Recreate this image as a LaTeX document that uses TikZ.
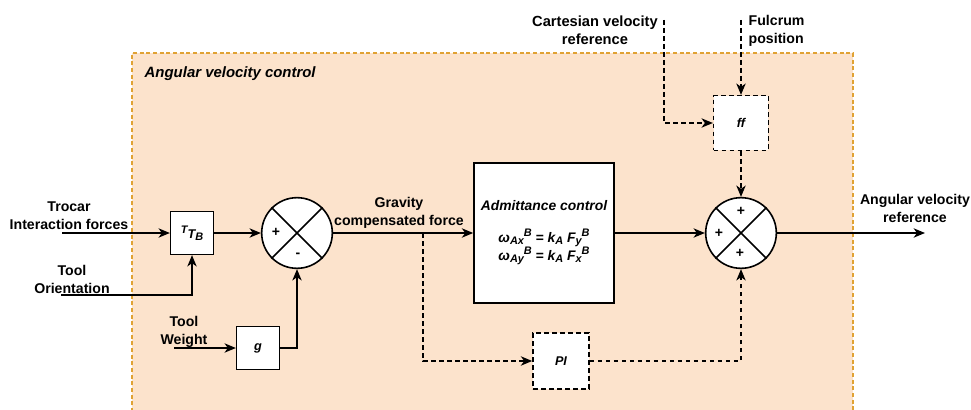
\documentclass[tikz,border=0pt]{standalone}
\usepackage{fontspec}
\setmainfont{Liberation Sans}
\usepackage{tikz}
\usetikzlibrary{arrows.meta}
\usetikzlibrary{positioning}

\definecolor{bgFill}{RGB}{252,227,204}
\definecolor{bgLine}{RGB}{224,162,52}

% sub- and superscripts a bit larger than \textsubscript
\newcommand{\lowS}[1]{\raisebox{-0.35ex}{\fontsize{8.2}{9}\selectfont #1}}
\newcommand{\highS}[1]{\raisebox{0.75ex}{\fontsize{8.2}{9}\selectfont #1}}

\begin{document}
\begin{tikzpicture}[
        x=0.75pt, y=-0.75pt,
        defaultS/.style={
            line width=1.2pt,
            fill=white,
            align=center,
            draw=black,
            inner sep=0pt
        },
        boxS/.style={
        	defaultS,
        	rectangle,
        	minimum size=32pt,
        	font=\bfseries\itshape\fontsize{9.5}{11}\selectfont
        },
        dboxS/.style={
        	boxS,
        	dash pattern=on 3.5pt off 2.5pt
        },
        sumS/.style={
        	defaultS,
        	circle,
        	minimum size=53pt
        },
        labelS/.style={
            align=center,
            font=\bfseries\fontsize{10.6}{13.5}\selectfont
        },
        signS/.style={
            inner sep=0pt,
            font=\bfseries\fontsize{10.5}{11}\selectfont
        },
        arrowS/.style={
            line width=1.1pt,
            -{Stealth[length=8.5pt,width=7pt,inset=2.5pt]}
        },
        darrowS/.style={
            arrowS,
            dash pattern=on 3.5pt off 2.5pt
        },
        lineS/.style={line width=1.1pt},
    ]

    \useasboundingbox (0,0) rectangle (971,410);

    % control region
    \fill[bgFill] (132,53) rectangle (853,412);
    \draw[bgLine, line width=1pt, dash pattern=on 3pt off 2pt]
        (132,412) -- (132,53) -- (853,53) -- (853,412);
    \node[labelS, anchor=west, font=\bfseries\itshape\fontsize{11.2}{13.5}\selectfont] (title) at (140,74) {Angular velocity control};

	\node[boxS] (T) at (192,233) {\highS{T}T\lowS{B}};
	\node[boxS] (g) at (258,348) {g};
	\node[sumS] (S1) at (297,233) {};
	\node[boxS, minimum size=105pt, font=\bfseries\itshape\fontsize{10.4}{13.5}\selectfont] (A) at (544,233)
	    {Admittance control\\[10pt]
	     ω\lowS{Ax}\highS{B} = k\lowS{A} F\lowS{y}\highS{B}\\
	     ω\lowS{Ay}\highS{B} = k\lowS{A} F\lowS{x}\highS{B}};
	\node[dboxS, minimum size=42pt] (PI) at (561,361) {PI};
	\node[dboxS, minimum size=41pt] (ff) at (741,123) {ff};
	\node[sumS] (S2) at (741,233) {};

	\draw[lineS] (S1.north west) -- (S1.south east) (S1.north east) -- (S1.south west);
	\draw[lineS] (S2.north west) -- (S2.south east) (S2.north east) -- (S2.south west);
	\node[signS] (p1) at (276,232) {+};
	\node[signS] (m1) at (298,255) {-};
	\node[signS] (p2) at (741,211) {+};
	\node[signS] (p3) at (719,233) {+};
	\node[signS] (p4) at (740,253) {+};

	% inputs and output
	\node[labelS] (troL) at (69,216) {Trocar\\Interaction forces};
	\node[labelS] (oriL) at (72,279) {Tool\\Orientation};
	\node[labelS] (wgtL) at (184,332) {Tool\\Weight};
	\node[labelS] (gravL) at (399,213) {Gravity\\compensated force};
	\node[labelS, font=\bfseries\fontsize{11}{13.5}\selectfont] (cartL) at (595,30) {Cartesian velocity\\reference};
	\node[labelS, anchor=west, align=left] (fulcL) at (744,31) {Fulcrum\\position};
	\node[labelS] (outL) at (915,208) {Angular velocity\\reference};

	\coordinate (troc) at (62,233);
	\coordinate (ori) at (61,295);
	\coordinate (wgt) at (174,348);
	\coordinate (grav) at (423,233);
	\coordinate (cart) at (664,20);
	\coordinate (fulc) at (741,20);
	\coordinate (out) at (925,233);

	\draw[arrowS] (troc) -- (T);
	\draw[arrowS] (ori) -| (T);
	\draw[arrowS] (wgt) -- (g);
	\draw[arrowS] (T) -- (S1);
	\draw[arrowS] (g) -| (S1);
	\draw[arrowS] (S1) -- (A);
	\draw[darrowS] (grav) |- (PI);
	\draw[darrowS] (PI) -| (S2);
	\draw[darrowS] (cart) |- (ff);
	\draw[darrowS] (fulc) -- (ff);
	\draw[darrowS] (ff) -- (S2);
	\draw[arrowS] (A) -- (S2);
	\draw[arrowS] (S2) -- (out);

    \end{tikzpicture}
\end{document}
